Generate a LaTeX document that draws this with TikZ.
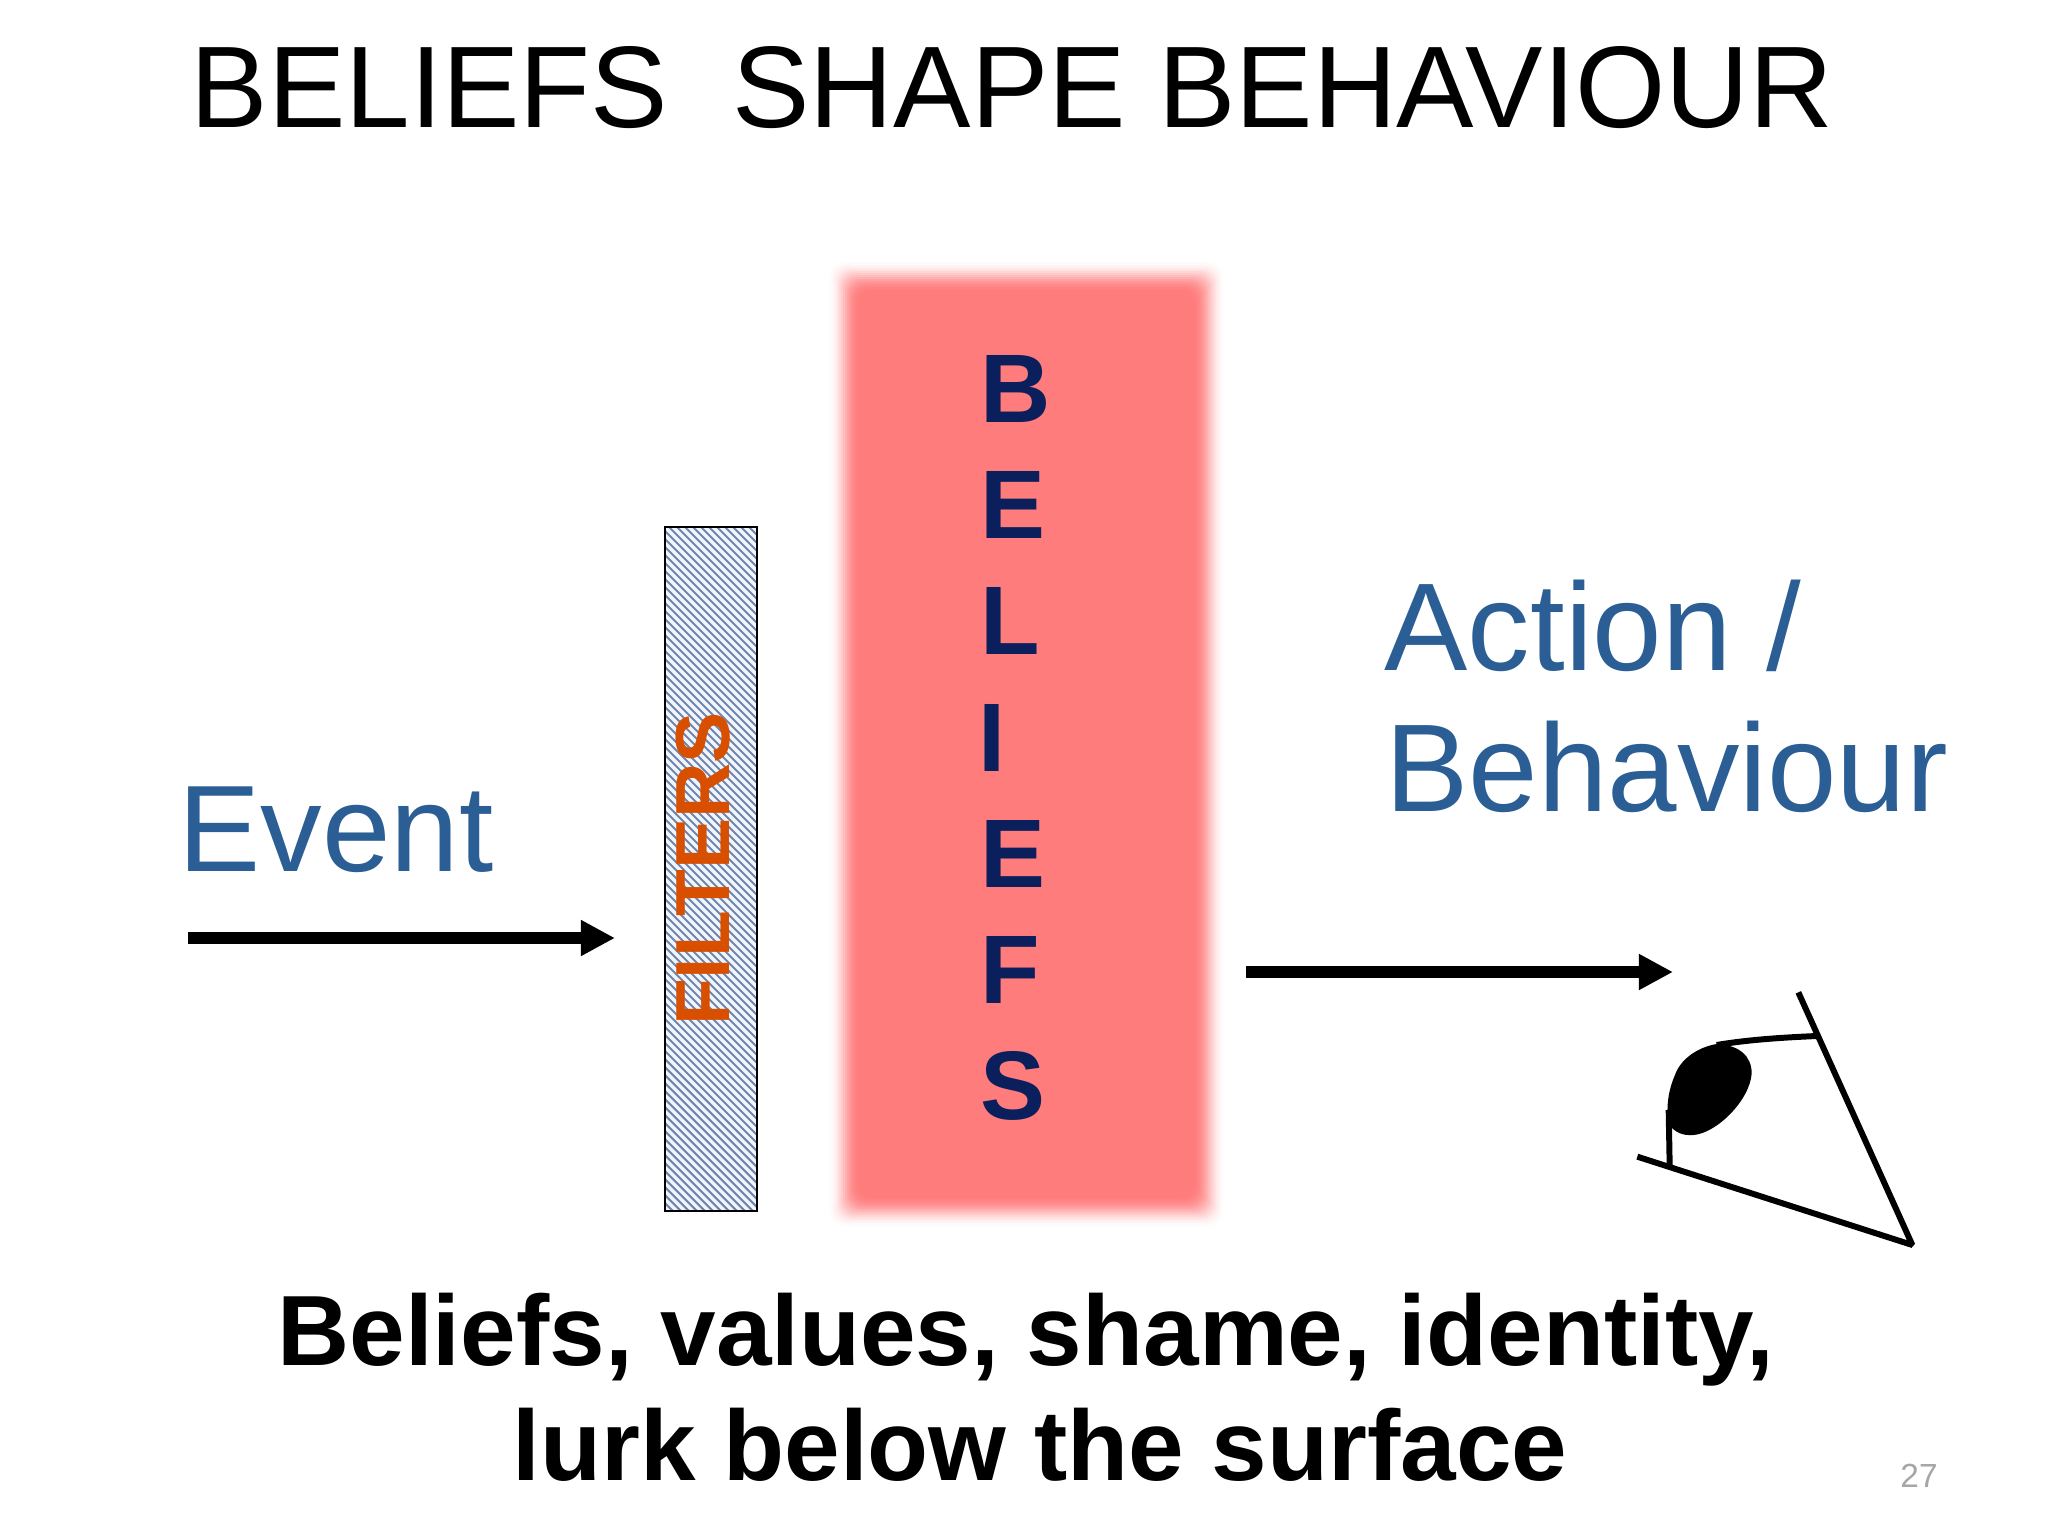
\documentclass[tikz,border=0pt]{standalone}
\usepackage{fontspec}
\setmainfont{Liberation Sans}
\usetikzlibrary{arrows.meta}
\definecolor{blueText}{HTML}{2A5E94}
\definecolor{navyText}{HTML}{0A1F5C}
\definecolor{orangeText}{HTML}{D94F00}
\definecolor{redFill}{HTML}{FF7C7C}
\definecolor{hatchLine}{HTML}{6F86AE}
\definecolor{hatchBack}{HTML}{F2F6FC}
\definecolor{pageNo}{HTML}{A6A6A6}
\tikzset{
  px/.style={x=0.01cm,y=-0.01cm},
  titletext/.style={anchor=base,inner sep=0pt,font=\fontsize{33}{38}\selectfont,text=black},
  bluetext/.style={anchor=base west,inner sep=0pt,font=\fontsize{35.5}{42}\selectfont,text=blueText},
  eventtext/.style={anchor=base west,inner sep=0pt,font=\fontsize{35}{42}\selectfont,text=blueText},
  boldtext/.style={anchor=base,inner sep=0pt,font=\fontsize{28.4}{34}\selectfont\bfseries,text=black},
  beliefletter/.style={anchor=base west,inner sep=0pt,font=\fontsize{27.7}{32}\selectfont\bfseries,text=navyText},
  filtertext/.style={anchor=base,rotate=90,inner sep=0pt,font=\fontsize{21.8}{26}\selectfont\bfseries,text=orangeText},
  bigarrow/.style={line width=3.4pt,-{Triangle[length=9.7pt,width=9.6pt,inset=0pt]}},
  eyeline/.style={line width=1.7pt,black,line join=bevel},
}
\begin{document}
\begin{tikzpicture}[px]
\useasboundingbox (0,0) rectangle (2048,1536);
\fill[white] (0,0) rectangle (2048,1536);
% title
\node[titletext] (title) at (1012,127) {BELIEFS\ \ SHAPE BEHAVIOUR};
% blurred red panel
\foreach \k in {0,1,...,16}{
  \pgfmathsetmacro{\d}{18-2*\k}
  \pgfmathsetmacro{\m}{100*(0.5-0.5*cos(\k/16*180))}
  \colorlet{stepcol}{redFill!\m!white}
  \fill[stepcol,rounded corners=4pt] (845-\d,277-\d) rectangle (1208+\d,1211+\d);
}
% hatched filter
\begin{scope}
  \clip (665,527) rectangle (757,1211);
  \fill[hatchBack] (665,527) rectangle (757,1211);
  \foreach \s in {0,8,...,800}{
    \draw[hatchLine,line width=0.6pt] (665,527+\s-100) -- (757,527+\s-100+92);
  }
\end{scope}
\node[draw=black,line width=0.6pt,minimum width=0.92cm,minimum height=6.84cm,inner sep=0pt] (filterbox) at (711,869) {};
\node[filtertext] (filters) at (729,869) {FILTERS};
% beliefs letters
\node[beliefletter] (b1) at (980,422) {B};
\node[beliefletter] (b2) at (980,538) {E};
\node[beliefletter] (b3) at (980,654) {L};
\node[beliefletter] (b4) at (978,771) {I};
\node[beliefletter] (b5) at (980,887) {E};
\node[beliefletter] (b6) at (980,1003) {F};
\node[beliefletter] (b7) at (980,1119) {S};
% labels
\node[eventtext] (event) at (178,871) {Event};
\node[bluetext] (action) at (1384,670) {Action /};
\node[bluetext] (behav) at (1385,811) {Behaviour};
% arrows
\coordinate (a1s) at (188,938);
\coordinate (a1e) at (615,938);
\coordinate (a2s) at (1246,972);
\coordinate (a2e) at (1673,972);
\draw[bigarrow] (a1s) -- (a1e);
\draw[bigarrow] (a2s) -- (a2e);
% eye
\begin{scope}[shift={(1600,960)},x=0.01cm/3,y=-0.01cm/3]
  \fill[black] (350,252) .. controls (290,262) and (240,300) .. (225,345)
    .. controls (205,390) and (198,440) .. (205,490)
    .. controls (225,520) and (250,527) .. (280,525)
    .. controls (350,520) and (450,420) .. (455,340)
    .. controls (455,290) and (420,255) .. (350,252) -- cycle;
  \draw[eyeline] (595,97) -- (937,855) -- (112,590);
  \draw[eyeline] (650,228) .. controls (560,232) and (450,238) .. (350,255);
  \draw[eyeline] (209,615) -- (206,450);
\end{scope}
% bottom text
\node[boldtext] (line1) at (1026,1365) {Beliefs, values, shame, identity,};
\node[boldtext] (line2) at (1040,1480) {lurk below the surface};
\node[anchor=center,inner sep=0pt,font=\fontsize{9.5}{12}\selectfont,text=pageNo] (pg) at (1919,1476) {27};
\end{tikzpicture}
\end{document}
